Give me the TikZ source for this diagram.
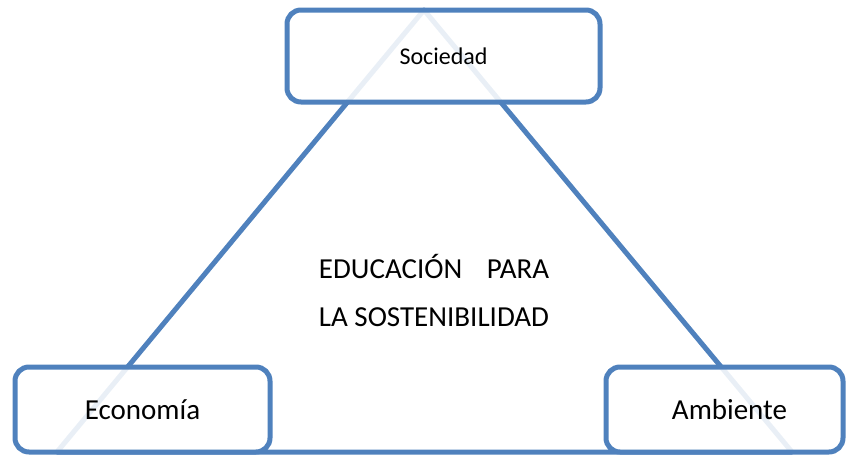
\documentclass[tikz,border=0pt]{standalone}
\usepackage{fontspec}
\setmainfont{Carlito}
\definecolor{ofblue}{HTML}{4F81BD}
\begin{document}
\begin{tikzpicture}[x=1pt,y=-1pt,
  box/.style={draw=ofblue, line width=5pt, rounded corners=14pt, fill=white,
    fill opacity=0.88, text opacity=1, inner sep=0pt},
  edge/.style={draw=ofblue, line width=5pt, line join=round},
  big/.style={font=\fontsize{29}{35}\selectfont},
  small/.style={font=\fontsize{24}{29}\selectfont}]
\useasboundingbox (0,0) rectangle (846,455);
\coordinate (apex) at (424,10);
\coordinate (left) at (57,452);
\coordinate (right) at (792,452);
\draw[edge] (left) -- (apex) -- (right) -- cycle;
\node[box, small, minimum width=313pt, minimum height=92pt] (soc) at (443.5,56) {Sociedad};
\node[box, big, minimum width=255pt, minimum height=85pt] (eco) at (142.5,409.5) {Economía};
\node[box, big, minimum width=237pt, minimum height=85pt] (amb) at (724.5,409.5) {\hspace{10pt}Ambiente};
\node[big, align=left, inner sep=0pt] (edu) at (434,295) {%
  \begin{tabular}{@{}l@{}}EDUCACIÓN\hfill PARA\\[13pt]LA SOSTENIBILIDAD\end{tabular}};
\end{tikzpicture}
\end{document}
